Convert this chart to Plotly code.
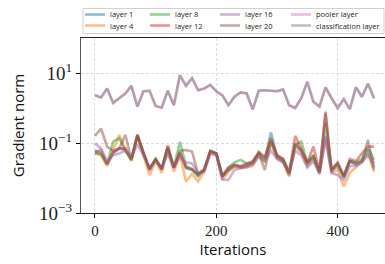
import plotly.graph_objects as go

iterations = list(range(0, 470, 10))

layer_1 = [0.06, 0.05, 0.024, 0.05, 0.07, 0.063, 0.033, 0.17, 0.051, 0.017,
           0.033, 0.017, 0.07, 0.019, 0.051, 0.019, 0.017, 0.012, 0.017, 0.057,
           0.051, 0.011, 0.017, 0.0235, 0.021, 0.0235, 0.026, 0.051, 0.033, 0.20,
           0.041, 0.033, 0.0136, 0.098, 0.063, 0.026, 0.041, 0.015, 0.16, 0.017,
           0.021, 0.011, 0.03, 0.024, 0.03, 0.063, 0.017]
layer_4 = [0.05, 0.045, 0.022, 0.06, 0.17, 0.07, 0.03, 0.15, 0.045, 0.012,
           0.03, 0.014, 0.06, 0.015, 0.045, 0.0079, 0.013, 0.0079, 0.015, 0.05,
           0.045, 0.009, 0.015, 0.021, 0.019, 0.021, 0.022, 0.045, 0.028, 0.10,
           0.035, 0.028, 0.011, 0.08, 0.055, 0.022, 0.035, 0.013, 0.12, 0.014,
           0.017, 0.0057, 0.014, 0.02, 0.028, 0.05, 0.015]
layer_8 = [0.052, 0.048, 0.025, 0.11, 0.136, 0.06, 0.033, 0.16, 0.05, 0.019,
           0.035, 0.019, 0.07, 0.02, 0.109, 0.022, 0.018, 0.011, 0.017, 0.06,
           0.05, 0.012, 0.02, 0.028, 0.033, 0.026, 0.028, 0.055, 0.035, 0.12,
           0.045, 0.035, 0.015, 0.09, 0.109, 0.028, 0.045, 0.014, 0.36, 0.018,
           0.026, 0.01, 0.03, 0.028, 0.035, 0.07, 0.033]
layer_12 = [0.055, 0.063, 0.026, 0.055, 0.07, 0.07, 0.035, 0.17, 0.055, 0.018,
            0.035, 0.018, 0.085, 0.02, 0.055, 0.02, 0.018, 0.013, 0.018, 0.057,
            0.05, 0.011, 0.02, 0.024, 0.022, 0.026, 0.03, 0.055, 0.04, 0.136,
            0.045, 0.035, 0.014, 0.16, 0.07, 0.028, 0.079, 0.016, 0.70, 0.017,
            0.028, 0.012, 0.035, 0.03, 0.051, 0.079, 0.079]
layer_16 = [0.098, 0.07, 0.03, 0.045, 0.05, 0.06, 0.04, 0.09, 0.045, 0.02,
            0.03, 0.02, 0.05, 0.02, 0.04, 0.028, 0.026, 0.014, 0.015, 0.05,
            0.045, 0.009, 0.0088, 0.017, 0.019, 0.02, 0.024, 0.04, 0.03, 0.06,
            0.035, 0.028, 0.014, 0.06, 0.045, 0.02, 0.03, 0.013, 0.136, 0.014,
            0.012, 0.0088, 0.022, 0.022, 0.028, 0.045, 0.026]
layer_20 = [0.16, 0.26, 0.079, 0.06, 0.07, 0.17, 0.035, 0.17, 0.05, 0.017,
            0.035, 0.018, 0.08, 0.02, 0.06, 0.063, 0.057, 0.013, 0.017, 0.06,
            0.05, 0.011, 0.017, 0.022, 0.02, 0.022, 0.028, 0.05, 0.017, 0.11,
            0.04, 0.03, 0.012, 0.09, 0.06, 0.026, 0.04, 0.015, 0.79, 0.015,
            0.026, 0.011, 0.03, 0.026, 0.03, 0.122, 0.02]
pooler_layer = [2.3, 2.0, 3.6, 1.4, 1.9, 2.6, 4.3, 1.1, 3.0, 3.1,
                1.15, 1.02, 3.1, 1.2, 8.7, 4.3, 7.1, 3.2, 3.6, 4.6,
                3.0, 2.3, 1.2, 2.1, 2.8, 2.6, 0.91, 3.1, 3.2, 3.1,
                3.0, 3.4, 1.2, 1.0, 1.9, 5.6, 1.5, 1.1, 3.9, 1.9,
                1.0, 1.8, 0.93, 3.9, 2.1, 4.9, 1.9]
classification_layer = [2.3, 2.0, 3.6, 1.4, 1.9, 2.6, 4.3, 1.1, 3.0, 3.1,
                        1.15, 1.02, 3.1, 1.2, 8.7, 4.3, 7.1, 3.2, 3.6, 4.6,
                        3.0, 2.3, 1.2, 2.1, 2.8, 2.6, 0.91, 3.1, 3.2, 3.1,
                        3.0, 3.4, 1.2, 1.0, 1.9, 5.6, 1.5, 1.1, 3.9, 1.9,
                        1.0, 1.8, 0.93, 3.9, 2.1, 4.9, 1.9]

names = ["layer 1", "layer 4", "layer 8", "layer 12", "layer 16", "layer 20",
         "pooler layer", "classification layer"]
colors = ["#1f77b4", "#ff7f0e", "#2ca02c", "#d62728", "#9467bd", "#8c564b",
          "#e377c2", "#7f7f7f"]
values = [layer_1, layer_4, layer_8, layer_12, layer_16, layer_20,
          pooler_layer, classification_layer]

y_tickvals = [1e-3, 1e-1, 1e1]
y_ticktext = ["10<sup>−3</sup>", "10<sup>−1</sup>", "10<sup>1</sup>"]
x_tickvals = [0, 200, 400]

W, H = 385, 264
ML, MR, MT, MB = 81, 0, 38, 51
PW, PH = W - ML - MR, H - MT - MB

def px(x):
    return (x - ML) / PW

def py(y):
    return (H - MB - y) / PH

fig = go.Figure()
for name, vals, color in zip(names, values, colors):
    fig.add_trace(go.Scatter(
        x=iterations, y=vals, mode="lines", name=name,
        line=dict(color=color, width=2.6), opacity=0.5, showlegend=False,
    ))

serif = "Liberation Serif, DejaVu Serif, serif"
sans = "Open Sans, DejaVu Sans, sans-serif"

# manual legend (matplotlib-style, 4 columns x 2 rows, column-major)
shapes = [dict(type="rect", xref="paper", yref="paper",
               x0=px(83), x1=px(384), y0=py(33.5), y1=py(8.5),
               line=dict(color="#d0d0d0", width=1), fillcolor="white", layer="above")]
annotations = []
col_x = [85, 150, 220, 291]
row_y = [14.5, 25.5]
for i, (name, color) in enumerate(zip(names, colors)):
    c, r = i // 2, i % 2
    x0 = col_x[c]
    y0 = row_y[r]
    shapes.append(dict(type="line", xref="paper", yref="paper",
                       x0=px(x0), x1=px(x0 + 20), y0=py(y0), y1=py(y0),
                       line=dict(color=color, width=2.6), opacity=0.5, layer="above"))
    annotations.append(dict(xref="paper", yref="paper", x=px(x0 + 23), y=py(y0),
                            text=name, showarrow=False, xanchor="left", yanchor="middle",
                            font=dict(family=sans, size=7.5, color="#222")))

grid = dict(showgrid=True, gridcolor="#dcdcdc", griddash="3px,2px", gridwidth=1)

fig.update_layout(
    width=W, height=H,
    margin=dict(l=ML, r=MR, t=MT, b=MB, autoexpand=False),
    paper_bgcolor="white", plot_bgcolor="white",
    showlegend=False,
    shapes=shapes, annotations=annotations,
    xaxis=dict(
        range=[-23, 478], tickvals=x_tickvals,
        tickfont=dict(family=serif, size=15, color="#222"),
        ticks="outside", ticklen=4, tickcolor="#000",
        showline=True, linecolor="#222", linewidth=1, mirror=True,
        zeroline=False,
        title=dict(text="Iterations", font=dict(family=sans, size=15, color="#111"), standoff=2),
        **grid,
    ),
    yaxis=dict(
        type="log", range=[-3, 2], tickvals=y_tickvals, ticktext=y_ticktext,
        tickfont=dict(family=serif, size=19, color="#222"),
        ticks="outside", ticklen=4, tickcolor="#000",
        showline=True, linecolor="#555", linewidth=1, mirror=True,
        zeroline=False,
        title=dict(text="Gradient norm", font=dict(family=sans, size=15, color="#111"), standoff=10),
        **grid,
    ),
)

fig.write_html(
    "out.html",
    config={"displayModeBar": False},
    post_script="document.body.style.margin='0';document.body.style.overflow='hidden';",
)
